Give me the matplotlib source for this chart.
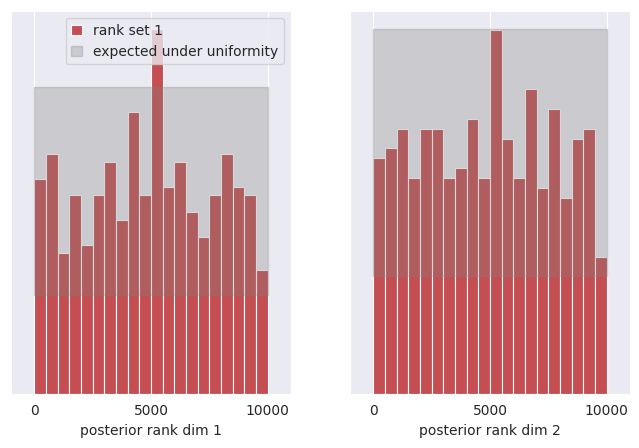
import numpy as np
import matplotlib
matplotlib.use("Agg")
import matplotlib.pyplot as plt
import seaborn as sns

sns.set_style("darkgrid")

# rank histograms (500 sbc runs, 20 bins over 0..10000 posterior samples)
bin_edges = np.linspace(0, 10000, 21)
counts_dim1 = [26, 29, 17, 24, 18, 24, 28, 21, 34, 24, 44, 25, 28, 22, 19, 24, 29, 25, 24, 15]
counts_dim2 = [24, 25, 27, 22, 27, 27, 22, 23, 28, 22, 37, 26, 22, 31, 21, 29, 20, 26, 27, 14]
# 99% band expected under uniformity
band_lower = 12
band_upper = 37.1

fig, axes = plt.subplots(1, 2, figsize=(6.39, 4.48), dpi=100)
centers = 0.5 * (bin_edges[:-1] + bin_edges[1:])

for i, (ax, counts) in enumerate(zip(axes, [counts_dim1, counts_dim2])):
    ax.hist(centers, bins=bin_edges, weights=counts, color="#C44E52",
            edgecolor="white", linewidth=0.8, label="rank set 1")
    ax.fill_between([0, 10000], [band_lower] * 2, [band_upper] * 2,
                    color="gray", alpha=0.3, label="expected under uniformity")
    ax.set_xlim(-1000, 11000)
    ax.set_xticks([0, 5000, 10000])
    ax.set_yticks([])
    ax.set_xlabel(f"posterior rank dim {i + 1}")
    if i == 0:
        ax.legend(loc="upper right", handlelength=0.8, handleheight=0.7)

plt.subplots_adjust(left=0.017, right=0.986, top=0.975, bottom=0.12, wspace=0.21)
plt.savefig("out.png")
